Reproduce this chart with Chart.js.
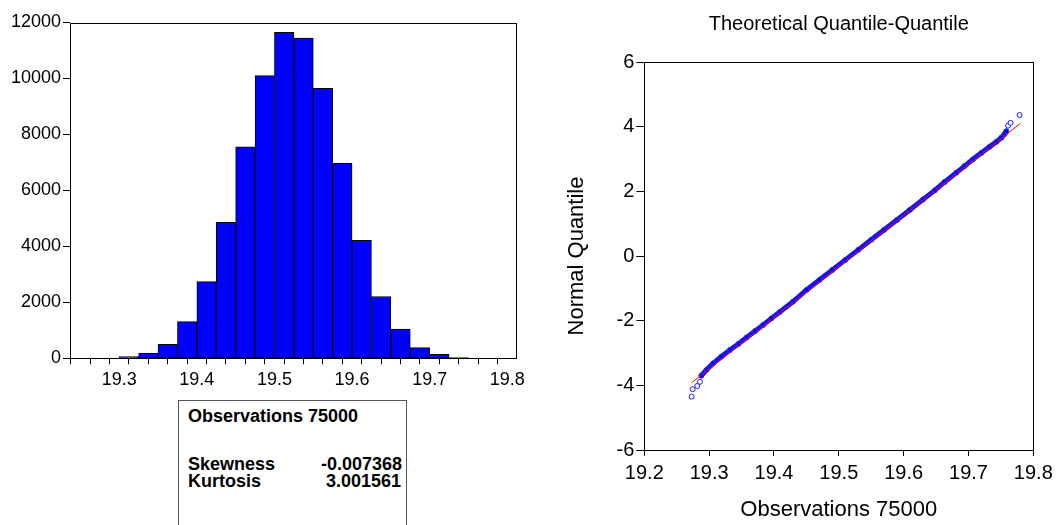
<!DOCTYPE html>
<html>
<head>
<meta charset="utf-8">
<script src="https://cdn.jsdelivr.net/npm/chart.js@4.4.1/dist/chart.umd.min.js"></script>
<style>
  body { margin: 0; background: #fff; width: 1058px; height: 525px; overflow: hidden; position: relative;
         font-family: "Liberation Sans", Arial, sans-serif; color: #000; }
  #histWrap { position: absolute; left: 0; top: 0; width: 530px; height: 395px; }
  #qqWrap { position: absolute; left: 540px; top: 0; width: 518px; height: 525px; }
  #stats { position: absolute; left: 178px; top: 400px; width: 229px; height: 140px; border: 1px solid #555;
           box-sizing: border-box; font-weight: bold; font-size: 18px; line-height: 20px; }
  #stats span { position: absolute; white-space: nowrap; }
</style>
</head>
<body>
<div id="histWrap"><canvas id="hist" width="530" height="395"></canvas></div>
<div id="stats"></div>
<div id="qqWrap"><canvas id="qq" width="518" height="525"></canvas></div>
<script>
// histogram bins (lower edge) and counts
const binStart = [19.300, 19.325, 19.350, 19.375, 19.400, 19.425, 19.450, 19.475, 19.500,
                  19.525, 19.550, 19.575, 19.600, 19.625, 19.650, 19.675, 19.700, 19.725];
const binWidth = 0.025;
const counts = [60, 180, 500, 1310, 2740, 4860, 7560, 10100, 11650,
                11440, 9650, 6970, 4220, 2210, 1040, 380, 140, 30];

// summary box
const obsCount = 75000;
const statLabels = ['Skewness', 'Kurtosis'];
const statValues = ['-0.007368', '3.001561'];

// quantile-quantile points (observation, normal quantile)
const qqX = [19.2880, 19.2960, 19.3063, 19.3190, 19.3320, 19.3450, 19.3578, 19.3710, 19.3834,
             19.3960, 19.4090, 19.4296, 19.4502, 19.4700, 19.4900, 19.5100, 19.5300, 19.5500,
             19.5700, 19.5900, 19.6094, 19.6300, 19.6480, 19.6633, 19.6814, 19.6940, 19.7069,
             19.7200, 19.7327, 19.7430, 19.7507, 19.7560, 19.7584];
const qqY = [-3.70, -3.52, -3.32, -3.11, -2.91, -2.72, -2.52, -2.32, -2.13,
             -1.93, -1.73, -1.41, -1.05, -0.74, -0.43, -0.12, 0.19, 0.50,
             0.81, 1.12, 1.42, 1.75, 2.03, 2.29, 2.58, 2.78, 2.99,
             3.19, 3.38, 3.53, 3.66, 3.78, 3.86];
const tailX = [19.2730, 19.2746, 19.2817, 19.2858, 19.7610, 19.7650, 19.7789];
const tailY = [-4.35, -4.12, -4.02, -3.89, 4.03, 4.12, 4.36];
const refX = [19.273, 19.780];
const refY = [-3.92, 4.10];

const FONT = '"Liberation Sans", Arial, sans-serif';

const framePlugin = {
  id: 'frame',
  afterDatasetsDraw(chart) {
    const { ctx, chartArea: a } = chart;
    ctx.save();
    ctx.strokeStyle = '#000';
    ctx.lineWidth = 1;
    ctx.strokeRect(Math.round(a.left) + 0.5, Math.round(a.top) + 0.5,
                   Math.round(a.right) - Math.round(a.left), Math.round(a.bottom) - Math.round(a.top));
    ctx.restore();
  }
};

// stats box text
const stats = document.getElementById('stats');
function addText(txt, left, top, right) {
  const s = document.createElement('span');
  s.textContent = txt;
  s.style.top = top + 'px';
  if (right !== undefined) s.style.right = right + 'px'; else s.style.left = left + 'px';
  stats.appendChild(s);
}
addText('Observations ' + obsCount, 9, 5);
statLabels.forEach((lab, i) => {
  addText(lab, 9, 53 + i * 17);
  addText(statValues[i], 0, 53 + i * 17, 4 + i);
});

// Histogram
new Chart(document.getElementById('hist').getContext('2d'), {
  type: 'bar',
  data: {
    datasets: [{
      data: binStart.map((b, i) => ({ x: b + binWidth / 2, y: counts[i] })),
      backgroundColor: '#0000ff',
      borderColor: '#000',
      borderWidth: 1,
      borderSkipped: false,
      barPercentage: 1,
      categoryPercentage: 1
    }]
  },
  options: {
    responsive: false,
    animation: false,
    devicePixelRatio: 1,
    layout: { padding: { left: 0, right: 13, top: 22.5, bottom: 0 } },
    plugins: { legend: { display: false }, tooltip: { enabled: false } },
    scales: {
      x: {
        type: 'linear', min: 19.2365, max: 19.811, offset: false,
        afterFit: s => { s.height = 395 - 358.3; },
        grid: { drawOnChartArea: false, tickLength: 6, tickColor: '#000' },
        border: { display: false },
        ticks: {
          stepSize: 0.025, includeBounds: false, autoSkip: false, maxRotation: 0, padding: 5,
          color: '#000', font: { family: FONT, size: 18 },
          callback: v => (Math.round(v * 1000) % 100 === 0 ? v.toFixed(1) : '')
        }
      },
      y: {
        min: 0, max: 12000,
        afterFit: s => { s.width = 70; },
        grid: { drawOnChartArea: false, tickLength: 7, tickColor: '#000' },
        border: { display: false },
        ticks: { stepSize: 2000, padding: 2, color: '#000', font: { family: FONT, size: 18 },
                 callback: v => String(v) }
      }
    }
  },
  plugins: [framePlugin]
});

// Q-Q plot
new Chart(document.getElementById('qq').getContext('2d'), {
  type: 'scatter',
  data: {
    datasets: [
      {
        data: refX.map((x, i) => ({ x, y: refY[i] })),
        showLine: true, borderColor: '#ff0000', borderWidth: 1, pointRadius: 0
      },
      {
        data: tailX.map((x, i) => ({ x, y: tailY[i] })),
        pointRadius: 2.5, borderColor: '#1a1aff', backgroundColor: '#fff', borderWidth: 1
      },
      {
        data: qqX.map((x, i) => ({ x, y: qqY[i] })),
        showLine: true, borderColor: '#1010ff', borderWidth: 5,
        pointRadius: 2.5, pointBorderColor: '#2a2aff', pointBackgroundColor: '#0000ee', pointBorderWidth: 1
      }
    ]
  },
  options: {
    responsive: false,
    animation: false,
    devicePixelRatio: 1,
    layout: { padding: { left: 0, right: 24.7, top: 0, bottom: 0 } },
    plugins: {
      legend: { display: false },
      tooltip: { enabled: false },
      title: {
        display: true, text: 'Theoretical Quantile-Quantile', fullSize: false, color: '#000',
        font: { family: FONT, size: 20, weight: 'normal' }, padding: { top: 12, bottom: 26 }
      }
    },
    scales: {
      x: {
        type: 'linear', min: 19.2, max: 19.8,
        afterFit: s => { s.height = 75; },
        grid: { drawOnChartArea: false, tickLength: 6, tickColor: '#000' },
        border: { display: false },
        ticks: { stepSize: 0.1, autoSkip: false, maxRotation: 0, padding: 5, color: '#000',
                 font: { family: FONT, size: 20 }, callback: v => v.toFixed(1) },
        title: { display: true, text: 'Observations 75000', color: '#000',
                 font: { family: FONT, size: 22 }, padding: { top: 0, bottom: 2 } }
      },
      y: {
        min: -6, max: 6,
        afterFit: s => { s.width = 104.3; },
        grid: { drawOnChartArea: false, tickLength: 8, tickColor: '#000' },
        border: { display: false },
        ticks: { stepSize: 2, padding: 2, color: '#000', font: { family: FONT, size: 20 } },
        title: { display: true, text: 'Normal Quantile', color: '#000',
                 font: { family: FONT, size: 22 }, padding: { top: 23.5, bottom: 0 } }
      }
    }
  },
  plugins: [framePlugin]
});
</script>
</body>
</html>
